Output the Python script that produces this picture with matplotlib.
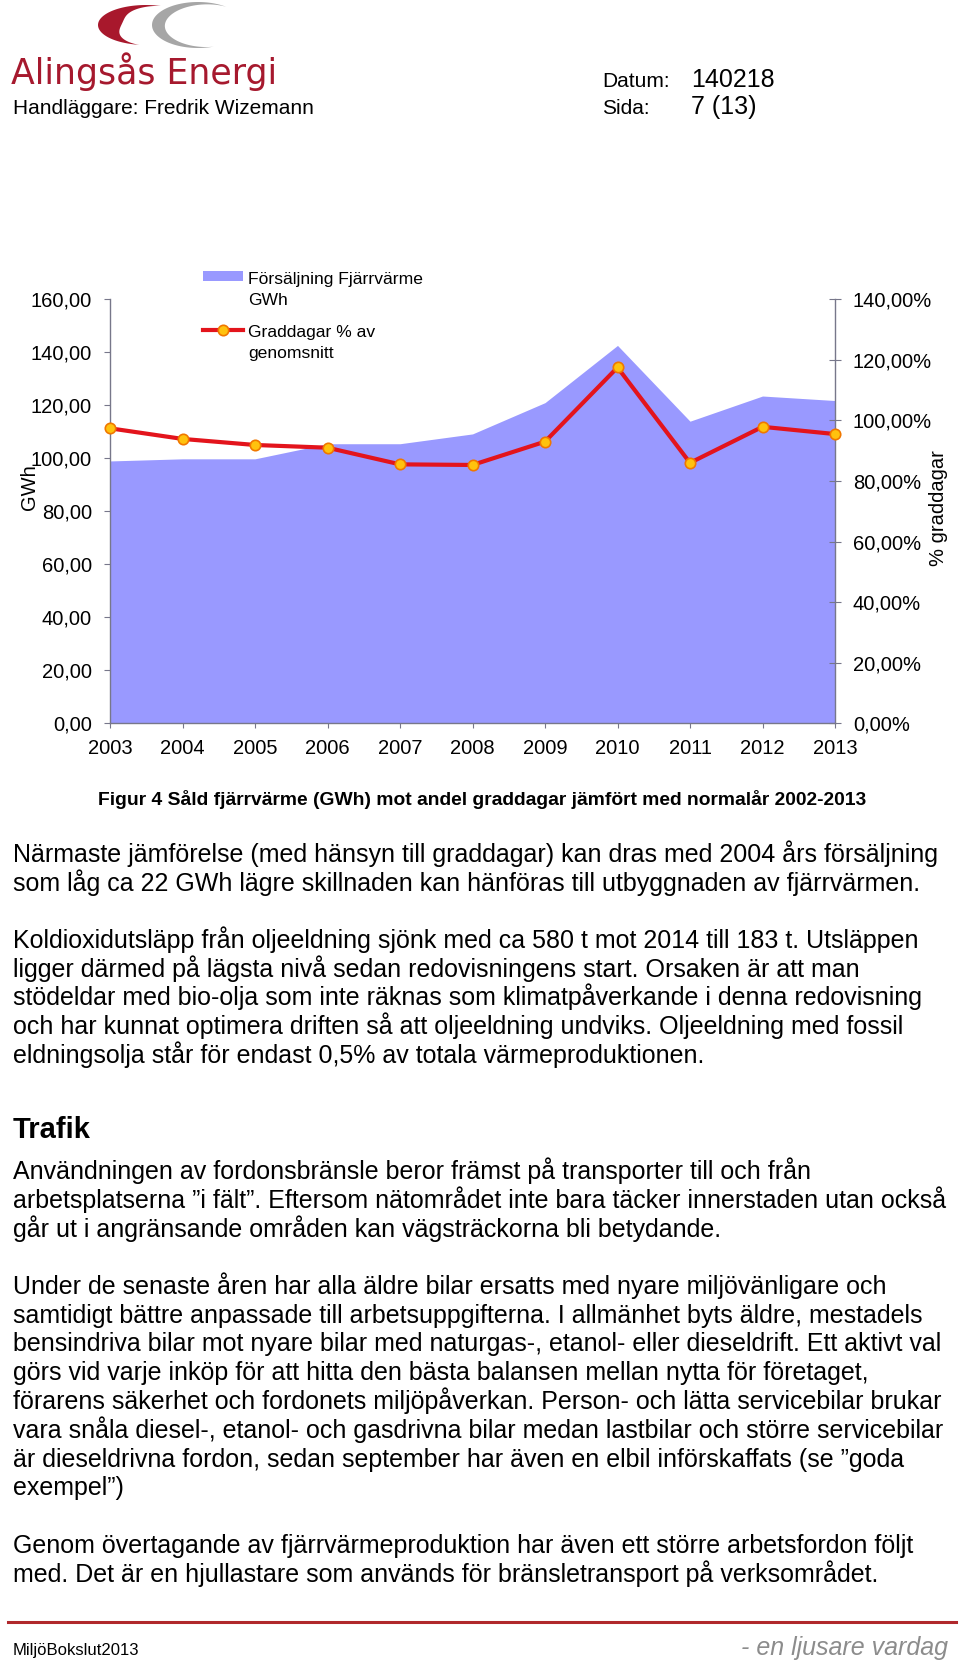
import matplotlib
matplotlib.use('Agg')
import matplotlib.pyplot as plt
import numpy as np
from matplotlib.collections import PolyCollection
from matplotlib.lines import Line2D
from matplotlib.legend_handler import HandlerLine2D, HandlerPolyCollection
from matplotlib.patches import Polygon

plt.rcParams['font.family'] = ['Liberation Sans', 'DejaVu Sans']

# chart data
years = [2003, 2004, 2005, 2006, 2007, 2008, 2009, 2010, 2011, 2012, 2013]
sales_gwh = [99.0, 99.8, 99.8, 105.5, 105.5, 109.2, 121.0, 142.6, 114.0, 123.5, 121.8]
graddagar_pct = [97.4, 93.9, 91.9, 91.0, 85.5, 85.3, 93.0, 117.5, 86.0, 97.9, 95.5]
gwh_ticks = [0, 20, 40, 60, 80, 100, 120, 140, 160]
pct_ticks = [0, 20, 40, 60, 80, 100, 120, 140]
legend_labels = ['Försäljning Fjärrvärme\nGWh', 'Graddagar % av\ngenomsnitt']

caption = 'Figur 4 Såld fjärrvärme (GWh) mot andel graddagar jämfört med normalår 2002-2013'
para1 = ['Närmaste jämförelse (med hänsyn till graddagar) kan dras med 2004 års försäljning',
         'som låg ca 22 GWh lägre skillnaden kan hänföras till utbyggnaden av fjärrvärmen.']
para2 = ['Koldioxidutsläpp från oljeeldning sjönk med ca 580 t mot 2014 till 183 t. Utsläppen',
         'ligger därmed på lägsta nivå sedan redovisningens start. Orsaken är att man',
         'stödeldar med bio-olja som inte räknas som klimatpåverkande i denna redovisning',
         'och har kunnat optimera driften så att oljeeldning undviks. Oljeeldning med fossil',
         'eldningsolja står för endast 0,5% av totala värmeproduktionen.']
para3 = ['Användningen av fordonsbränsle beror främst på transporter till och från',
         'arbetsplatserna \u201di fält\u201d. Eftersom nätområdet inte bara täcker innerstaden utan också',
         'går ut i angränsande områden kan vägsträckorna bli betydande.']
para4 = ['Under de senaste åren har alla äldre bilar ersatts med nyare miljövänligare och',
         'samtidigt bättre anpassade till arbetsuppgifterna. I allmänhet byts äldre, mestadels',
         'bensindriva bilar mot nyare bilar med naturgas-, etanol- eller dieseldrift. Ett aktivt val',
         'görs vid varje inköp för att hitta den bästa balansen mellan nytta för företaget,',
         'förarens säkerhet och fordonets miljöpåverkan. Person- och lätta servicebilar brukar',
         'vara snåla diesel-, etanol- och gasdrivna bilar medan lastbilar och större servicebilar',
         'är dieseldrivna fordon, sedan september har även en elbil införskaffats (se \u201dgoda',
         'exempel\u201d)']
para5 = ['Genom övertagande av fjärrvärmeproduktion har även ett större arbetsfordon följt',
         'med. Det är en hjullastare som används för bränsletransport på verksområdet.']

W, H = 960, 1666
fig = plt.figure(figsize=(W / 100, H / 100), dpi=100)


def put(x, y, s, **kw):
    fig.text(x / W, 1 - y / H, s, **kw)


# logo swooshes
lax = fig.add_axes([0, 1 - 60 / H, 300 / W, 60 / H])
lax.set_xlim(0, 300)
lax.set_ylim(60, 0)
lax.axis('off')


def crescent(cx, cy, rx, ry, t0, t1, wx, wy):
    t = np.radians(np.linspace(t0, t1, 80))
    s = np.sin(np.pi * np.linspace(0, 1, 80)) ** 1.2
    outer = np.c_[cx + rx * np.cos(t), cy - ry * np.sin(t)]
    inner = np.c_[cx + (rx - wx * s) * np.cos(t), cy - (ry - wy * s) * np.sin(t)]
    return np.vstack([outer, inner[::-1]])


lax.add_patch(Polygon(crescent(146, 25, 48, 20, 72, 262, 24, 8), color='#A8182C', lw=0))
lax.add_patch(Polygon(crescent(198, 25, 46, 23, 52, 290, 13, 7), color='#A6A6A6', lw=0))

# header
put(11, 84, 'Alingsås Energi', fontsize=25, color='#A6192E', family=['DejaVu Sans'])
put(13, 114, 'Handläggare: Fredrik Wizemann', fontsize=15)
put(602, 87, 'Datum:', fontsize=15)
put(691, 87, '140218', fontsize=18)
put(602, 114, 'Sida:', fontsize=15)
put(691, 114, '7 (13)', fontsize=18)

# chart
spine_c = '#77778a'
ax = fig.add_axes([110 / W, 1 - 723.3 / H, 725 / W, 424 / H])
area = ax.fill_between(years, 0, sales_gwh, color='#9999FF', lw=0)
ax.set_xlim(2003, 2013)
ax.set_ylim(0, 160)
ax.set_yticks(gwh_ticks)
ax.set_yticklabels([f'{v:.2f}'.replace('.', ',') for v in gwh_ticks])
ax.set_xticks(years)
ax.set_xticklabels([str(y) for y in years])
ax.tick_params(axis='y', direction='out', length=4.3, width=0.8, color=spine_c, pad=8.6, labelsize=14.5)
ax.tick_params(axis='x', direction='out', length=3.6, width=0.8, color=spine_c, pad=8.0, labelsize=14.5)
for side in ['top', 'right']:
    ax.spines[side].set_visible(False)
for side in ['left', 'bottom']:
    ax.spines[side].set_color(spine_c)
    ax.spines[side].set_linewidth(1.0)

ax2 = ax.twinx()
line, = ax2.plot(years, graddagar_pct, color='#E3141C', lw=3, marker='o', ms=7.5,
                 mfc='#FFC20E', mec='#F07800', mew=1.2, clip_on=False, zorder=3)
ax2.set_ylim(0, 140)
ax2.set_yticks(pct_ticks)
ax2.set_yticklabels([f'{v:.2f}%'.replace('.', ',') for v in pct_ticks])
ax2.tick_params(axis='y', direction='inout', length=8.6, width=0.8, color=spine_c, pad=8.6, labelsize=14.5)
for side in ['top', 'left', 'bottom']:
    ax2.spines[side].set_visible(False)
ax2.spines['right'].set_color(spine_c)
ax2.spines['right'].set_linewidth(1.0)

put(29, 487, 'GWh', fontsize=14.5, rotation=90, ha='center', va='center')
put(938, 508, '% graddagar', fontsize=14.5, rotation=90, ha='center', va='center')


class ShiftPoly(HandlerPolyCollection):
    def create_artists(self, legend, orig_handle, xdescent, ydescent, width, height, fontsize, trans):
        return super().create_artists(legend, orig_handle, xdescent, ydescent - 0.8 * fontsize,
                                      width, height, fontsize, trans)


class ShiftLine(HandlerLine2D):
    def create_artists(self, legend, orig_handle, xdescent, ydescent, width, height, fontsize, trans):
        return super().create_artists(legend, orig_handle, xdescent, ydescent - 1.5 * fontsize,
                                      width, height, fontsize, trans)


leg = fig.legend([area, line], legend_labels, loc='upper left',
                 bbox_to_anchor=(203 / W, 1 - 272 / H), bbox_transform=fig.transFigure,
                 frameon=False, fontsize=12.6, numpoints=1, handlelength=2.3, handleheight=0.5,
                 handletextpad=0.3, labelspacing=0.95, borderpad=0, borderaxespad=0,
                 handler_map={PolyCollection: ShiftPoly(), Line2D: ShiftLine()})
for t in leg.get_texts():
    t.set_linespacing(1.5)

# caption and body text
put(482, 805, caption, fontsize=13.9, weight='bold', ha='center')

lh = 28.75


def paragraph(lines, y0):
    for i, s in enumerate(lines):
        put(13, y0 + i * lh, s, fontsize=18)


paragraph(para1, 862)
paragraph(para2, 948)
put(13, 1138, 'Trafik', fontsize=21, weight='bold')
paragraph(para3, 1179)
paragraph(para4, 1294)
paragraph(para5, 1553)

# footer
fig.add_artist(Line2D([8 / W, 956 / W], [1 - 1622 / H, 1 - 1622 / H], color='#B0282C', lw=2.2))
put(13, 1655, 'MiljöBokslut2013', fontsize=12)
put(948, 1655, '- en ljusare vardag', fontsize=18, style='italic', color='#8C8C8C', ha='right')

fig.savefig('out.png', dpi=100)
